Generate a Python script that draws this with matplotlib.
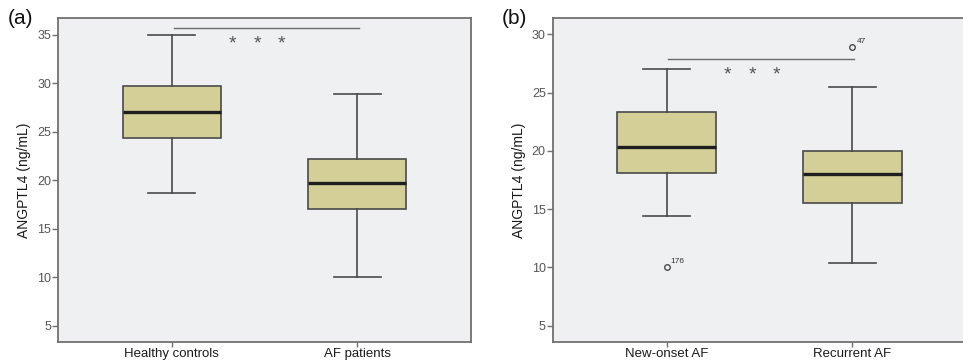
import matplotlib
matplotlib.use('Agg')
import matplotlib.pyplot as plt

plt.rcParams['font.family'] = ['Liberation Sans', 'DejaVu Sans']

# panel (a)
groups_a = ['Healthy controls', 'AF patients']
whislo_a = [18.7, 10.0]
q1_a = [24.3, 17.0]
med_a = [27.0, 19.7]
q3_a = [29.7, 22.2]
whishi_a = [35.0, 28.9]
outliers_a = [[], []]
outlier_ids_a = [[], []]
sig_a = 35.65

# panel (b)
groups_b = ['New-onset AF', 'Recurrent AF']
whislo_b = [14.4, 10.4]
q1_b = [18.1, 15.5]
med_b = [20.3, 18.0]
q3_b = [23.3, 20.0]
whishi_b = [27.0, 25.5]
outliers_b = [[10.0], [28.9]]
outlier_ids_b = [['176'], ['47']]
sig_b = 27.85

BG = '#eff0f2'
FILL = '#d3cf97'
EDGE = '#4a4a4a'
SPINE = '#707070'


def draw_panel(ax, groups, lo, q1, med, q3, hi, fl, ids, sig, ylim, yticks, label):
    stats = []
    for i in range(len(groups)):
        stats.append({'whislo': lo[i], 'q1': q1[i], 'med': med[i], 'q3': q3[i],
                      'whishi': hi[i], 'fliers': fl[i], 'label': groups[i]})
    ax.bxp(stats, positions=[1, 2], widths=0.53, patch_artist=True,
           boxprops=dict(facecolor=FILL, edgecolor=EDGE, linewidth=1.2),
           whiskerprops=dict(color=EDGE, linewidth=1.2),
           capprops=dict(color=EDGE, linewidth=1.2),
           medianprops=dict(color='#1e1e1e', linewidth=2.4),
           flierprops=dict(marker='o', markersize=4, markerfacecolor='none',
                           markeredgecolor=EDGE, markeredgewidth=1.0),
           capwidths=0.255)
    for i in range(len(groups)):
        for v, t in zip(fl[i], ids[i]):
            ax.annotate(t, (i + 1, v), xytext=(3, 3), textcoords='offset points',
                        fontsize=6, color='#333333')
    ax.set_facecolor(BG)
    ax.set_xlim(0.387, 2.613)
    ax.set_ylim(*ylim)
    ax.set_yticks(yticks)
    ax.tick_params(axis='y', length=4, width=1, color=SPINE, labelsize=9,
                   labelcolor='#555555', pad=1)
    ax.tick_params(axis='x', length=3.5, width=1, color=SPINE, labelsize=9.5,
                   labelcolor='#1a1a1a', pad=0.5)
    for s in ax.spines.values():
        s.set_color(SPINE)
        s.set_linewidth(1.3)
    ax.set_ylabel('ANGPTL4 (ng/mL)', fontsize=10, color='#1a1a1a', labelpad=4)
    # significance bar and stars
    ax.plot([1.01, 2.01], [sig, sig], color='#6a6a6a', linewidth=1.0)
    for xs in [1.33, 1.46, 1.59]:
        ax.annotate('*', (xs, sig), xytext=(0, -11), textcoords='offset points',
                    ha='center', va='center', fontsize=14, color='#555555')
    ax.text(-0.122, 1.0, label, transform=ax.transAxes, fontsize=15, color='#111111',
            ha='left', va='center')


fig = plt.figure(figsize=(9.63, 3.61), dpi=100)
ax1 = fig.add_axes([0.0602, 0.0526, 0.4289, 0.8975])
ax2 = fig.add_axes([0.5739, 0.0526, 0.4295, 0.8975])

draw_panel(ax1, groups_a, whislo_a, q1_a, med_a, q3_a, whishi_a, outliers_a,
           outlier_ids_a, sig_a, (3.3, 36.7), [5, 10, 15, 20, 25, 30, 35], '(a)')
draw_panel(ax2, groups_b, whislo_b, q1_b, med_b, q3_b, whishi_b, outliers_b,
           outlier_ids_b, sig_b, (3.6, 31.4), [5, 10, 15, 20, 25, 30], '(b)')

fig.savefig('out.png', dpi=100, facecolor='white')
